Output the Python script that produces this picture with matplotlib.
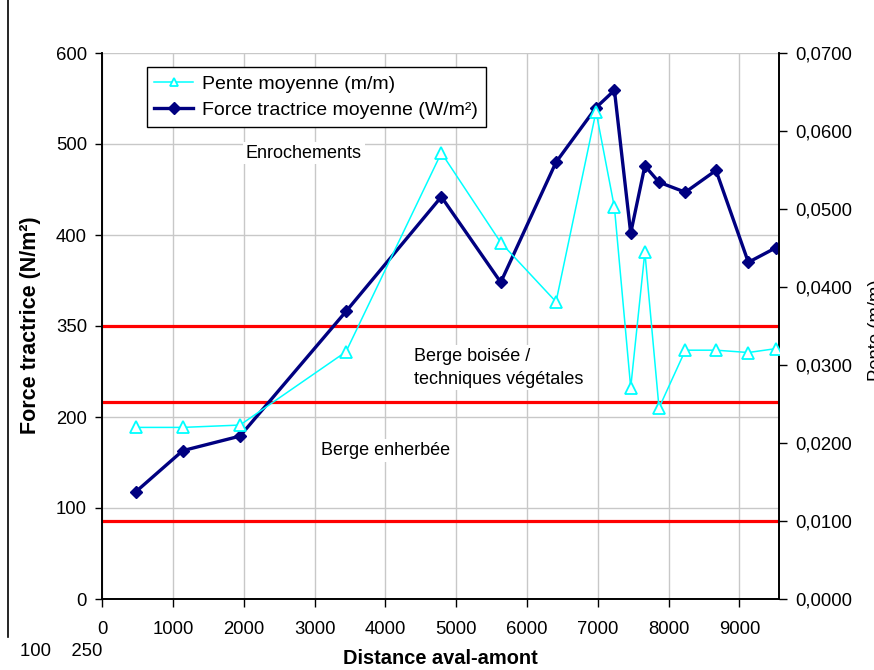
import matplotlib
matplotlib.use("Agg")
import matplotlib.pyplot as plt
from matplotlib.lines import Line2D
from matplotlib.ticker import FixedLocator, FixedFormatter

plt.rcParams['font.family'] = ['Liberation Sans', 'DejaVu Sans']

# Distance along the reach (m)
distance = [476, 1136, 1945, 3443, 4790, 5629, 6410, 6975, 7235, 7465,
            7665, 7865, 8237, 8670, 9127, 9516]
# Mean tractive force (left axis)
force = [118, 163, 179, 316, 442, 348, 480, 540, 559, 402,
         476, 458, 447, 471, 370, 386]
# Mean slope (right axis, m/m)
pente = [0.0220, 0.0220, 0.0223, 0.0317, 0.0572, 0.0457, 0.0381, 0.0625,
         0.0502, 0.0271, 0.0445, 0.0245, 0.0319, 0.0319, 0.0316, 0.0321]

# Threshold lines for bank protection types (left-axis units)
seuils = [300, 217, 86]

left_ticks = [0, 100, 200, 300, 400, 500, 600]
left_tick_labels = ["0", "100", "200", "350", "400", "500", "600"]
right_ticks = [0.0, 0.01, 0.02, 0.03, 0.04, 0.05, 0.06, 0.07]
right_tick_labels = ["0,0000", "0,0100", "0,0200", "0,0300", "0,0400",
                     "0,0500", "0,0600", "0,0700"]
x_ticks = [0, 1000, 2000, 3000, 4000, 5000, 6000, 7000, 8000, 9000]

FS = 13.3
NAVY = "#000080"
CYAN = "#00FFFF"

fig = plt.figure(figsize=(8.74, 6.70), dpi=100)
ax = fig.add_axes([102.3 / 874, 1 - 599 / 670, (779 - 102.3) / 874, 546 / 670])
ax2 = ax.twinx()

ax.set_xlim(0, 9560)
ax.set_ylim(0, 600)
ax2.set_ylim(0, 0.07)

# grid
ax.set_axisbelow(True)
ax.grid(True, color="#c8c8c8", lw=1.0)

for s in seuils:
    ax.axhline(s, color="#FF0000", lw=2.3, zorder=2)

ln_force, = ax.plot(distance, force, color=NAVY, lw=2.4, marker="D",
                    markersize=6.5, markerfacecolor=NAVY, markeredgecolor=NAVY,
                    zorder=3, label="Force tractrice moyenne (W/m²)")
ln_pente, = ax2.plot(distance, pente, color=CYAN, lw=1.1, marker="^",
                     markersize=8, markerfacecolor="white",
                     markeredgecolor=CYAN, markeredgewidth=1.3, zorder=3,
                     label="Pente moyenne (m/m)")

box = dict(facecolor="white", edgecolor="none", pad=2)
ax.text(2030, 490, "Enrochements", fontsize=13, ha="left", va="center",
        bbox=box, zorder=2.5)
ax.text(4404, 254, "Berge boisée /\ntechniques végétales", fontsize=13,
        ha="left", va="center", multialignment="left", linespacing=1.45,
        bbox=box, zorder=2.5)
ax.text(3086, 163, "Berge enherbée", fontsize=13, ha="left", va="center",
        bbox=box, zorder=2.5)

# ticks
ax.xaxis.set_major_locator(FixedLocator(x_ticks))
ax.yaxis.set_major_locator(FixedLocator(left_ticks))
ax.yaxis.set_major_formatter(FixedFormatter(left_tick_labels))
ax2.yaxis.set_major_locator(FixedLocator(right_ticks))
ax2.yaxis.set_major_formatter(FixedFormatter(right_tick_labels))

ax.tick_params(axis="x", direction="out", length=6, width=1, pad=10,
               labelsize=FS)
ax.tick_params(axis="y", direction="out", length=5, width=1, pad=6,
               labelsize=FS)
ax2.tick_params(axis="y", direction="out", length=6, width=1, pad=6,
                labelsize=FS)

for a in (ax, ax2):
    a.spines["top"].set_visible(False)
    for k in ("left", "right", "bottom"):
        a.spines[k].set_linewidth(1.2)
        a.spines[k].set_color("black")

leg = ax2.legend(handles=[ln_pente, ln_force], loc="upper left",
                 bbox_to_anchor=(0.0656, 0.9738), borderaxespad=0,
                 fontsize=14, frameon=True, fancybox=False, framealpha=1,
                 edgecolor="black", handlelength=2.0, handletextpad=0.45,
                 labelspacing=0.45, borderpad=0.4)
leg.get_frame().set_linewidth(1.0)
for h in leg.legend_handles:
    h.set_markersize(6)

fig.text(31 / 874, 1 - 325 / 670, "Force tractrice (N/m²)", rotation=90,
         ha="center", va="center", fontsize=15.5, fontweight="bold")
fig.text(440 / 874, 1 - 658 / 670, "Distance aval-amont", ha="center",
         va="center", fontsize=14.4, fontweight="bold")
fig.text(876 / 874, 1 - 330 / 670, "Pente (m/m)", rotation=90,
         ha="center", va="center", fontsize=FS)
fig.text(20 / 874, 1 - 652 / 670, "100    250", ha="left", va="center",
         fontsize=FS)

# chart frame edge
fig.add_artist(Line2D([8 / 874, 8 / 874], [1.0, 1 - 637 / 670],
                      transform=fig.transFigure, color="black", lw=1.2))

fig.savefig("out.png", dpi=100)
